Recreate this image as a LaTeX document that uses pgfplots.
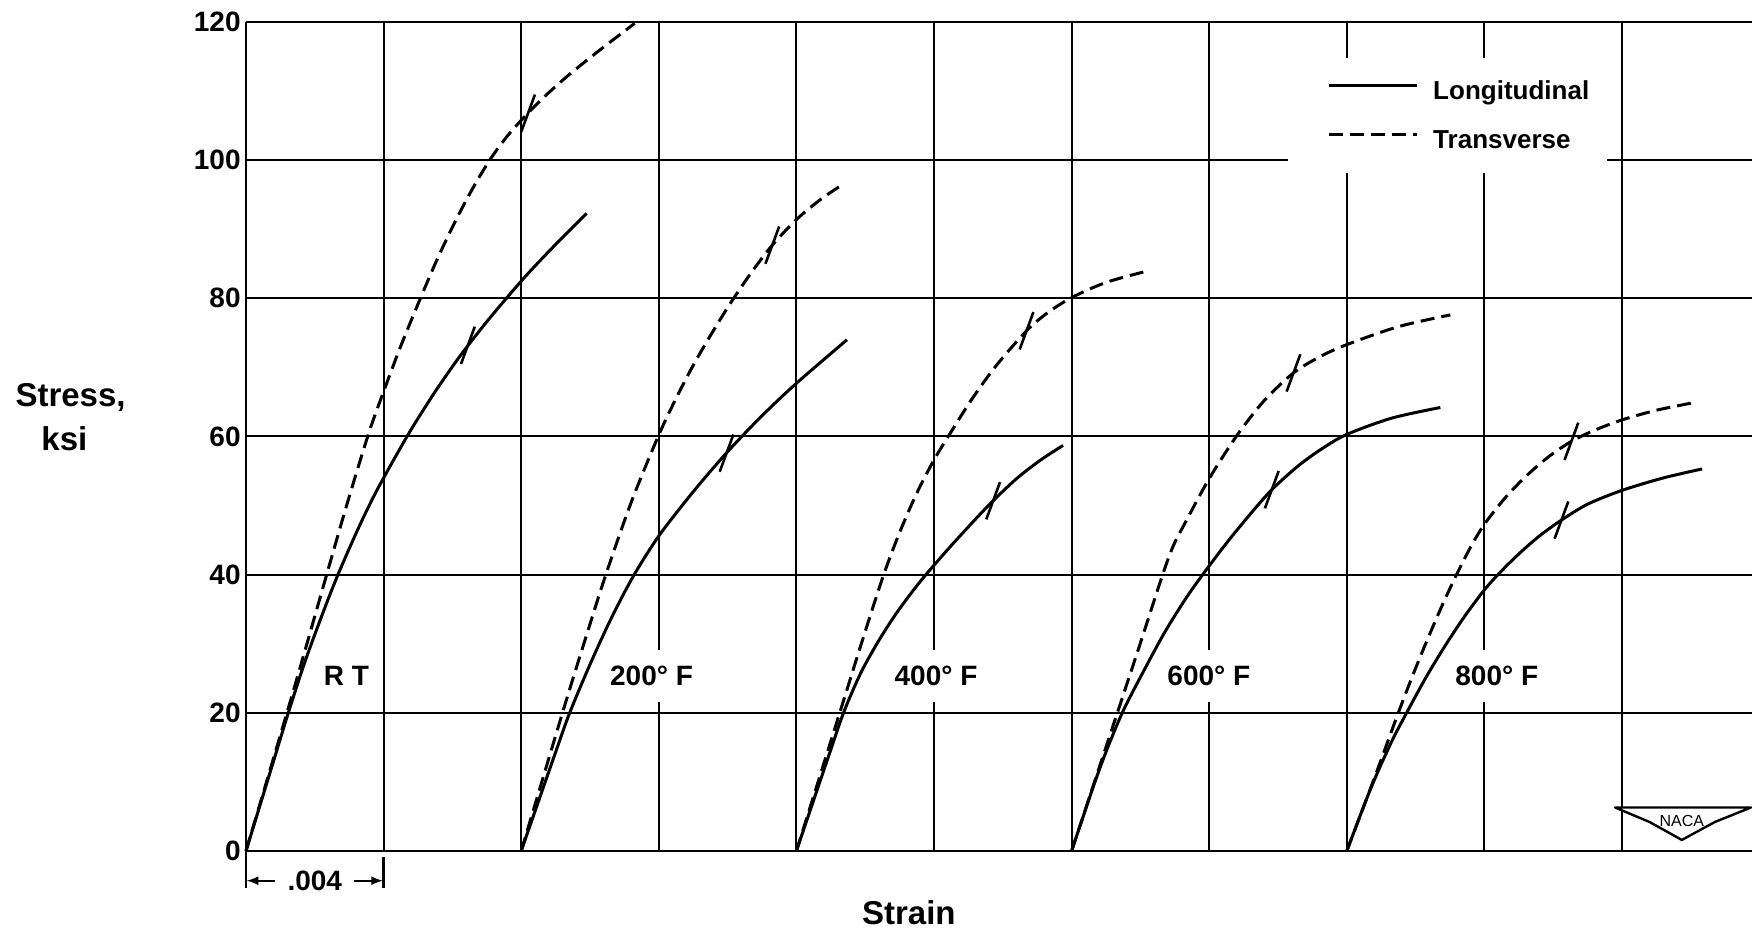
\documentclass[border=0pt]{standalone}
\usepackage{pgfplots}
\pgfplotsset{compat=1.18}
\usepackage{fontspec}
\setmainfont{Liberation Sans}
\begin{document}
\begin{tikzpicture}
\begin{axis}[
  name=ax,
  scale only axis,
  width=753pt, height=414.5pt,
  xmin=0, xmax=43.78, ymin=0, ymax=120,
  axis lines=left,
  axis line style={-, line width=1.3pt},
  xtick={0,4,...,40}, xticklabels={},
  ytick={0,20,...,120},
  major tick length=0pt,
  grid=major,
  grid style={black, line width=1pt},
  /pgf/number format/assume math mode=true,
  yticklabel style={font=\bfseries\fontsize{14}{14}\selectfont, inner xsep=2.5pt},
  clip=false,
  legend style={at={(axis cs:31.42,111.6)}, anchor=north west, draw=none, fill=none,
    inner sep=0pt, row sep=12pt, column sep=7.5pt,
    font=\bfseries\fontsize{13}{13}\selectfont,
    nodes={inner sep=0pt, text height=9.5pt, text depth=3pt}},
  legend cell align=left,
  legend image code/.code={\draw[#1] (0pt,3.5pt) -- (44pt,3.5pt);},
  Lsty/.style={black, line width=1.5pt, smooth},
  Tsty/.style={black, line width=1.5pt, smooth, dash pattern=on 7pt off 3.5pt},
  Ksty/.style={black, line width=1.3pt},
]
% white box behind legend
\fill[white] (axis cs:30.29,98.1) rectangle (axis cs:39.56,114.8);

% RT
\addplot[Lsty, forget plot] coordinates {(0,0) (0.8,13) (1.23,20) (1.7,27.2) (2.2,34) (2.64,39.6) (3.2,46) (3.7,51.2) (4.2,55.8) (4.8,61) (5.5,66.5) (6.2,71.5) (6.9,76) (7.5,79.6) (8.2,83.6) (9.0,87.8) (9.9,92.3)};
\addplot[Tsty, forget plot] coordinates {(0,0) (1.19,20) (1.76,29.8) (2.31,39.4) (2.9,49.6) (3.55,60.2) (4.0,66.5) (4.5,73.1) (5.07,80) (5.58,85.9) (6.09,91.2) (6.6,96.0) (7.11,100.2) (7.6,103.5) (8.1,106.3) (8.7,109.3) (9.4,112.4) (10.3,116) (11.3,119.8)};
% 200 F
\addplot[Lsty, forget plot] coordinates {(8,0) (9.0,14.3) (9.41,20) (10.0,27.0) (10.6,33.5) (11.25,39.7) (12,45.6) (13,52.0) (14,57.8) (15,63.0) (16,67.7) (17.47,74.0)};
\addplot[Tsty, forget plot] coordinates {(8,0) (9.2,20) (9.84,30.3) (10.46,40) (11.2,50.5) (11.98,60) (12.5,65.5) (13.0,70.3) (13.5,74.6) (14.07,79.2) (14.7,83.8) (15.3,87.7) (16,91.4) (16.7,94.3) (17.35,96.5)};
% 400 F
\addplot[Lsty, forget plot] coordinates {(16,0) (16.9,13.2) (17.37,20) (17.87,25.75) (18.37,30.25) (18.87,34.15) (19.37,37.55) (19.79,40.15) (20.5,44.2) (21.2,48.0) (21.72,50.7) (22.4,53.9) (23.1,56.6) (23.75,58.7)};
\addplot[Tsty, forget plot] coordinates {(16,0) (17.26,20) (17.9,30.2) (18.51,39.6) (19.0,46.1) (19.5,51.8) (20,56.6) (20.5,60.7) (21.1,65.4) (21.8,70.2) (22.69,75.3) (23.3,77.9) (24,80.1) (25,82.3) (26.16,83.9)};
% 600 F
\addplot[Lsty, forget plot] coordinates {(24,0) (24.7,10.3) (25.1,15.6) (25.52,20.5) (26.1,26.1) (26.7,31.6) (27.3,36.4) (27.78,39.8) (28.5,44.55) (29.2,48.8) (29.82,52.3) (30.6,55.8) (31.3,58.3) (32,60.3) (33.3,62.65) (34.72,64.2)};
\addplot[Tsty, forget plot] coordinates {(24,0) (25.33,20) (26.0,30.1) (26.62,39.6) (26.95,44.1) (27.3,47.5) (28,53.9) (28.8,60.1) (29.6,65.2) (30.45,69.2) (31.2,71.5) (32,73.3) (33.5,75.9) (35.01,77.6)};
% 800 F
\addplot[Lsty, forget plot] coordinates {(32,0) (32.7,9.1) (33.3,15.8) (33.75,20.1) (34.31,25.2) (34.87,29.8) (35.43,34.0) (36,37.8) (36.47,40.4) (37.0,43.0) (37.6,45.6) (38.24,47.9) (39.0,50.2) (40,52.2) (41.2,54.0) (42.33,55.3)};
\addplot[Tsty, forget plot] coordinates {(32,0) (32.7,9.2) (33.1,14.6) (33.49,19.9) (33.9,25.2) (34.3,30.1) (34.75,35.3) (35.17,39.8) (35.6,44.0) (36,47.3) (36.6,51.1) (37.2,54.2) (37.85,57.0) (38.53,59.3) (39.2,60.9) (40,62.4) (41,63.8) (42.09,64.9)};

% short cross ticks on curves
\addplot[Ksty, forget plot] coordinates {(6.25,70.5) (6.65,75.9)};
\addplot[Ksty, forget plot] coordinates {(8.0,104.1) (8.4,109.5)};
\addplot[Ksty, forget plot] coordinates {(13.77,54.9) (14.17,60.3)};
\addplot[Ksty, forget plot] coordinates {(15.1,85.0) (15.5,90.4)};
\addplot[Ksty, forget plot] coordinates {(21.52,48.0) (21.92,53.4)};
\addplot[Ksty, forget plot] coordinates {(22.49,72.6) (22.89,78.0)};
\addplot[Ksty, forget plot] coordinates {(29.62,49.6) (30.02,55.0)};
\addplot[Ksty, forget plot] coordinates {(30.25,66.5) (30.65,71.9)};
\addplot[Ksty, forget plot] coordinates {(38.04,45.2) (38.44,50.6)};
\addplot[Ksty, forget plot] coordinates {(38.33,56.6) (38.73,62.0)};

% legend
\addlegendimage{black, line width=1.5pt}
\addlegendimage{black, line width=1.5pt, dash pattern=on 7pt off 3.5pt}
\legend{Longitudinal, Transverse}

% temperature labels
\tikzset{tlab/.style={anchor=base, fill=white, inner xsep=1pt, inner ysep=8pt, font=\bfseries\fontsize{14}{14}\selectfont}}
\node[tlab] at (axis cs:2.92,23.9) {R T};
\node[tlab] at (axis cs:11.79,23.9) {200° F};
\node[tlab] at (axis cs:20.06,23.9) {400° F};
\node[tlab] at (axis cs:27.99,23.9) {600° F};
\node[tlab] at (axis cs:36.36,23.9) {800° F};

% axis labels
\node[anchor=base, font=\bfseries\fontsize{16.5}{16.5}\selectfont] at (axis cs:-5.10,64.4) {Stress,};
\node[anchor=base, font=\bfseries\fontsize{16.5}{16.5}\selectfont] at (axis cs:-5.28,58.0) {ksi};
\node[anchor=base, font=\bfseries\fontsize{16.5}{16.5}\selectfont] at (axis cs:19.27,-10.7) {Strain};

% .004 dimension
\draw[line width=1.1pt] (axis cs:0,0) -- (axis cs:0,-5.4);
\draw[line width=1.1pt] (axis cs:4,-0.9) -- (axis cs:4,-5.4);
\draw[line width=1pt, -latex] (axis cs:0.85,-4.3) -- (axis cs:0.02,-4.3);
\draw[line width=1pt, -latex] (axis cs:3.15,-4.3) -- (axis cs:3.98,-4.3);
\node[font=\bfseries\fontsize{14}{14}\selectfont] at (axis cs:2.0,-4.3) {.004};

% NACA emblem
\draw[line width=1.2pt, fill=white, line join=round]
  (axis cs:39.8,6.3) -- (axis cs:43.75,6.3) -- (axis cs:42.7,4.2) -- (axis cs:41.74,1.6)
  -- (axis cs:40.8,4.2) -- cycle;
\node[font=\fontsize{8}{8}\selectfont] at (axis cs:41.74,4.4) {NACA};
\end{axis}
\pgfresetboundingbox
\path[use as bounding box] ([xshift=-123pt,yshift=-40pt]ax.south west) rectangle ([yshift=11pt]ax.north east);
\end{tikzpicture}
\end{document}
